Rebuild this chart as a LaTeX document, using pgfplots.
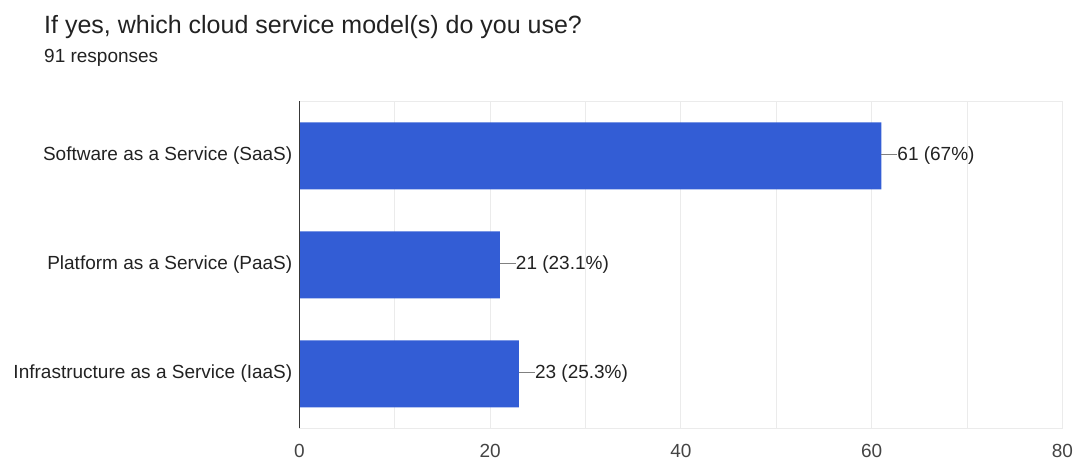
\documentclass[border=0pt]{standalone}
\usepackage{pgfplots}
\pgfplotsset{compat=1.18}
\usepackage{fontspec}
\setmainfont{Liberation Sans}
\definecolor{barblue}{HTML}{335DD5}
\definecolor{gridc}{HTML}{EBEBEB}
\definecolor{txt}{HTML}{222222}
\definecolor{tickc}{HTML}{444444}
\begin{document}
\begin{tikzpicture}[x=1pt,y=1pt]
\useasboundingbox (0,0) rectangle (1077,460);
\node[anchor=base west, font=\fontsize{25}{28}\selectfont, text=txt, inner sep=0] at (44,426) {If yes, which cloud service model(s) do you use?};
\node[anchor=base west, font=\fontsize{19}{22}\selectfont, text=txt, inner sep=0] at (44,397) {91 responses};
\begin{axis}[
  at={(314,29)}, anchor=south west,
  scale only axis, width=763pt, height=327pt,
  clip=false,
  xbar, bar width=67pt,
  xmin=0, xmax=80, ymin=-0.5, ymax=2.5,
  xtick={0,20,40,60,80}, minor xtick={10,30,50,70},
  ytick={0,1,2},
  yticklabels={Infrastructure as a Service (IaaS),Platform as a Service (PaaS),Software as a Service (SaaS)},
  major tick length=0, minor tick length=0,
  xmajorgrids, xminorgrids,
  major grid style={draw=gridc, line width=1pt},
  minor grid style={draw=gridc, line width=1pt},
  axis line style={draw=gridc, line width=1pt},
  /pgf/number format/assume math mode=true,
  tick label style={font=\fontsize{19}{22}\selectfont, text=tickc},
  xticklabel style={inner sep=0pt, yshift=-16pt},
  yticklabel style={inner sep=0pt, xshift=-7pt, text=txt},
  point meta=explicit symbolic,
  nodes near coords={\textcolor{gray}{\rule[0.3em]{16pt}{1pt}}\pgfplotspointmeta},
  nodes near coords style={anchor=west, inner sep=0pt, font=\fontsize{19}{22}\selectfont, text=txt},
]
\addplot[fill=barblue, draw=none] coordinates {
  (23,0) [23 (25.3\%)]
  (21,1) [21 (23.1\%)]
  (61,2) [61 (67\%)]
};
\draw[color=black!78, line width=1.8pt] (axis cs:0,-0.5) -- (axis cs:0,2.5);
\end{axis}
\end{tikzpicture}
\end{document}
